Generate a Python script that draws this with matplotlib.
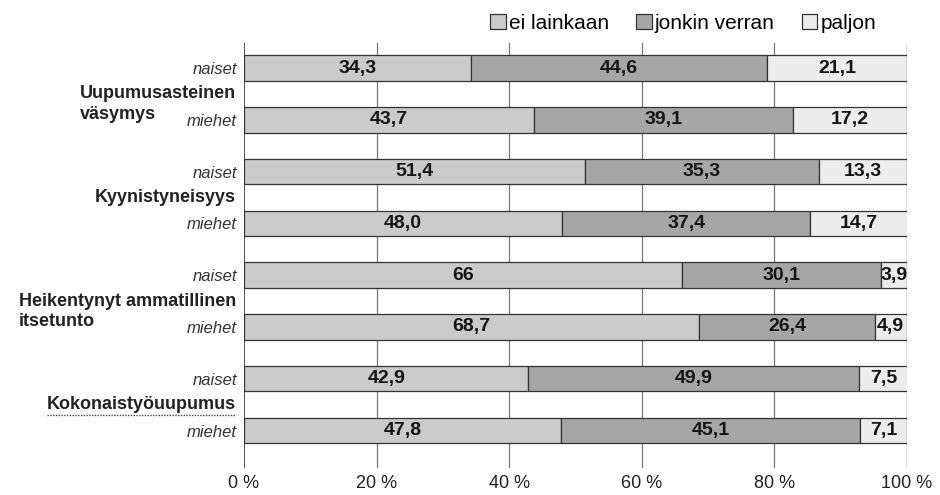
import matplotlib
matplotlib.use('Agg')
import matplotlib.pyplot as plt
from matplotlib.patches import Patch
from matplotlib.lines import Line2D

plt.rcParams['font.family'] = ['Liberation Sans', 'DejaVu Sans']

# data: share of respondents (%), rows top to bottom
rows = ['naiset', 'miehet'] * 4
groups = ['Uupumusasteinen\nväsymys', 'Kyynistyneisyys',
          'Heikentynyt ammatillinen\nitsetunto', 'Kokonaistyöuupumus']
ei_lainkaan = [34.3, 43.7, 51.4, 48.0, 66, 68.7, 42.9, 47.8]
jonkin_verran = [44.6, 39.1, 35.3, 37.4, 30.1, 26.4, 49.9, 45.1]
paljon = [21.1, 17.2, 13.3, 14.7, 3.9, 4.9, 7.5, 7.1]
ei_labels = ['34,3', '43,7', '51,4', '48,0', '66', '68,7', '42,9', '47,8']
jv_labels = ['44,6', '39,1', '35,3', '37,4', '30,1', '26,4', '49,9', '45,1']
pa_labels = ['21,1', '17,2', '13,3', '14,7', '3,9', '4,9', '7,5', '7,1']
series_names = ['ei lainkaan', 'jonkin verran', 'paljon']
colors = ['#cacaca', '#a6a6a6', '#ececec']
xticks = [0, 20, 40, 60, 80, 100]

fig = plt.figure(figsize=(9.4, 4.95), dpi=100)
ax = fig.add_axes([0.2596, 0.0545, 0.7053, 0.8586])

y = list(range(len(rows)))
h = 0.49

# vertical grid lines behind the bars
for xt in xticks:
    c = '#222222' if xt in (0, 100) else '#777777'
    ax.axvline(xt, color=c, lw=1.1 if xt == 0 else 0.9, zorder=0)

left = [0] * len(rows)
for vals, labs, col in zip([ei_lainkaan, jonkin_verran, paljon],
                           [ei_labels, jv_labels, pa_labels], colors):
    ax.barh(y, vals, left=left, height=h, color=col, edgecolor='#333333',
            linewidth=0.9, zorder=2)
    for yi, v, l0, lab in zip(y, vals, left, labs):
        ax.text(l0 + v / 2, yi, lab, ha='center', va='center',
                fontsize=14, fontweight='bold', color='#151515', zorder=3)
    left = [a + b for a, b in zip(left, vals)]

ax.set_xlim(0, 100)
ax.set_ylim(7.724, -0.483)
ax.set_xticks(xticks)
ax.set_xticklabels(['%d %%' % t for t in xticks], fontsize=13, color='#222222')
ax.set_yticks(y)
ax.set_yticklabels(rows, fontsize=12, style='italic', color='#333333')
ax.tick_params(axis='x', length=0, pad=5)
ax.tick_params(axis='y', length=0, pad=5)
for s in ax.spines.values():
    s.set_visible(False)

# group labels between the two rows of each group; second line left-aligned
fig.canvas.draw()
tr = ax.get_yaxis_transform()
first_lines = []
for i, g in enumerate(groups):
    parts = g.split('\n')
    yg = 2 * i + 0.5
    t = ax.text(-0.012, yg, parts[0], transform=tr, ha='right', va='center',
                fontsize=13, fontweight='bold', color='#222222')
    first_lines.append(t)
    if len(parts) > 1:
        bb = t.get_window_extent()
        x0 = ax.transAxes.inverted().transform((bb.x0, bb.y0))[0]
        ax.text(x0, yg + 0.4, parts[1], transform=tr, ha='left', va='center',
                fontsize=13, fontweight='bold', color='#222222')

# dotted underline for the total
bb = first_lines[3].get_window_extent()
fig.add_artist(Line2D([bb.x0 / 940, bb.x1 / 940], [(bb.y0 - 2) / 495] * 2,
                      color='#444444', lw=1, ls=(0, (1, 1))))

handles = [Patch(facecolor=c, edgecolor='#333333', linewidth=0.9) for c in colors]
fig.legend(handles, series_names, loc='upper right', bbox_to_anchor=(0.952, 1.01),
           ncol=3, frameon=False, fontsize=15, handlelength=0.75, handleheight=0.75,
           handletextpad=0.15, columnspacing=1.3)

fig.savefig('out.png', dpi=100)
